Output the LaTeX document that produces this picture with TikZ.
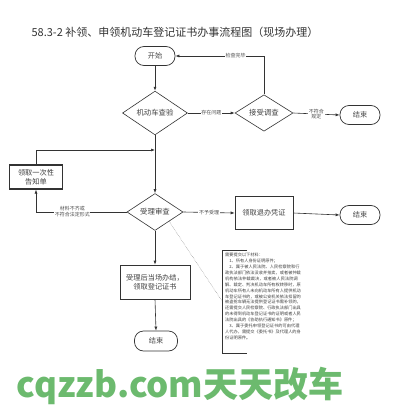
\documentclass[tikz,border=0pt]{standalone}
\usepackage{fontspec}
\setmainfont{Noto Sans CJK SC}
\usetikzlibrary{shapes.geometric,arrows.meta}
\XeTeXlinebreaklocale "zh"
\XeTeXlinebreakskip=0pt plus 0.2pt
\definecolor{wmgreen}{RGB}{108,186,110}
\begin{document}
\begin{tikzpicture}[x=1pt,y=-1pt,
  line/.style={draw=black!80, line width=0.6pt},
  arr/.style={line, -{Latex[length=4pt,width=3pt]}},
  term/.style={draw=black!80, line width=0.7pt, rounded corners=9pt, minimum width=40pt, minimum height=19pt, inner sep=0pt, font=\fontsize{7.2}{8}\selectfont, text=black!70},
  dec/.style={diamond, draw=black!80, line width=0.6pt, inner sep=0pt, font=\fontsize{7.4}{8}\selectfont, text=black!75},
  proc/.style={rectangle, draw=black!80, line width=0.6pt, inner sep=1pt, font=\fontsize{7.2}{9}\selectfont, text=black!75, align=center},
  lab/.style={fill=white, inner sep=0.6pt, font=\fontsize{5}{5.8}\selectfont, text=black!70, align=center},
  notetext/.style={inner sep=0pt, text width=76pt, align=left, font=\fontsize{4.2}{5.9}\selectfont, text=black!75}]
\useasboundingbox (0,0) rectangle (400,420);
\fill[white] (0,0) rectangle (400,420);

\node[font=\fontsize{11}{12}\selectfont, text=black!80] (title) at (175,32) {58.3-2 补领、申领机动车登记证书办事流程图（现场办理）};

\node[term] (start) at (155,56) {开始};
\node[dec, minimum width=65pt, minimum height=38pt] (check) at (155,113) {机动车查验};
\node[dec, minimum width=58pt, minimum height=36pt] (inv) at (264,113) {接受调查};
\node[term] (end1) at (360,115) {结束};
\node[dec, minimum width=56pt, minimum height=37pt] (rev) at (155,212) {受理审查};
\node[proc, minimum width=53pt, minimum height=24pt, line width=1.1pt] (notice) at (36,177) {领取一次性\\告知单};
\node[proc, minimum width=58pt, minimum height=33pt] (refund) at (264,213) {领取退办凭证};
\node[term] (end2) at (360,215) {结束};
\node[proc, minimum width=70pt, minimum height=34pt] (done) at (155,282) {受理后当场办结，\\领取登记证书};
\node[term, minimum width=43pt, minimum height=20pt] (end3) at (156,341) {结束};

\coordinate (join) at (155,150);
\coordinate (bt) at (222,250);
\coordinate (bb) at (222,353);
\coordinate (bm) at (222,301);

\draw[arr] (start.south) -- (check.north);
\draw[arr] (check.east) -- node[lab]{存在问题} (inv.west);
\draw[arr] (inv.east) -- node[lab]{不符合\\规定} (end1.west);
\draw[arr] (inv.north) |- node[lab, pos=0.66]{检查完毕} (start.east);
\draw[arr] (check.south) -- (rev.north);
\draw[arr] (notice.north) |- (join);
\draw[arr] (rev.west) -| node[lab, pos=0.3]{材料不齐或\\不符合法定形式} (notice.south);
\draw[arr] (rev.east) -- node[lab]{不予受理} (refund.west);
\draw[arr] (refund.east) -- (end2.west);
\draw[arr] (rev.south) -- (done.north);
\draw[arr] (done.south) -- (end3.north);

\draw[line, line width=0.5pt] ([xshift=25pt]bt) -- (bt) -- (bb) -- ([xshift=25pt]bb);
\draw[black!60, line width=0.4pt, densely dotted] (rev.south east) -- (bm);
\node[notetext, anchor=north west] (note) at (225,253) {需要提交以下材料：\\
\hspace*{1em}1、所有人身份证明原件；\\
\hspace*{1em}2、属于被人民法院、人民检察院和行政执法部门依法没收并拍卖，或者被仲裁机构依法仲裁裁决，或者被人民法院调解、裁定、判决机动车所有权转移时，原机动车所有人未向机动车所有人提供机动车登记证书的，或被公安机关依法扣留的被盗抢车辆无法提供登记证书需补领的，还需提交人民检察院、行政执法部门出具的未得到机动车登记证书的证明或者人民法院出具的《协助执行通知书》原件；\\
\hspace*{1em}3、属于委托申领登记证书的可由代理人代办，需提交《委托书》及代理人的身份证明原件。};

\node[font=\fontsize{35}{37}\selectfont\bfseries, text=wmgreen] (wm) at (180,386) {cqzzb.com天天改车};
\end{tikzpicture}
\end{document}
